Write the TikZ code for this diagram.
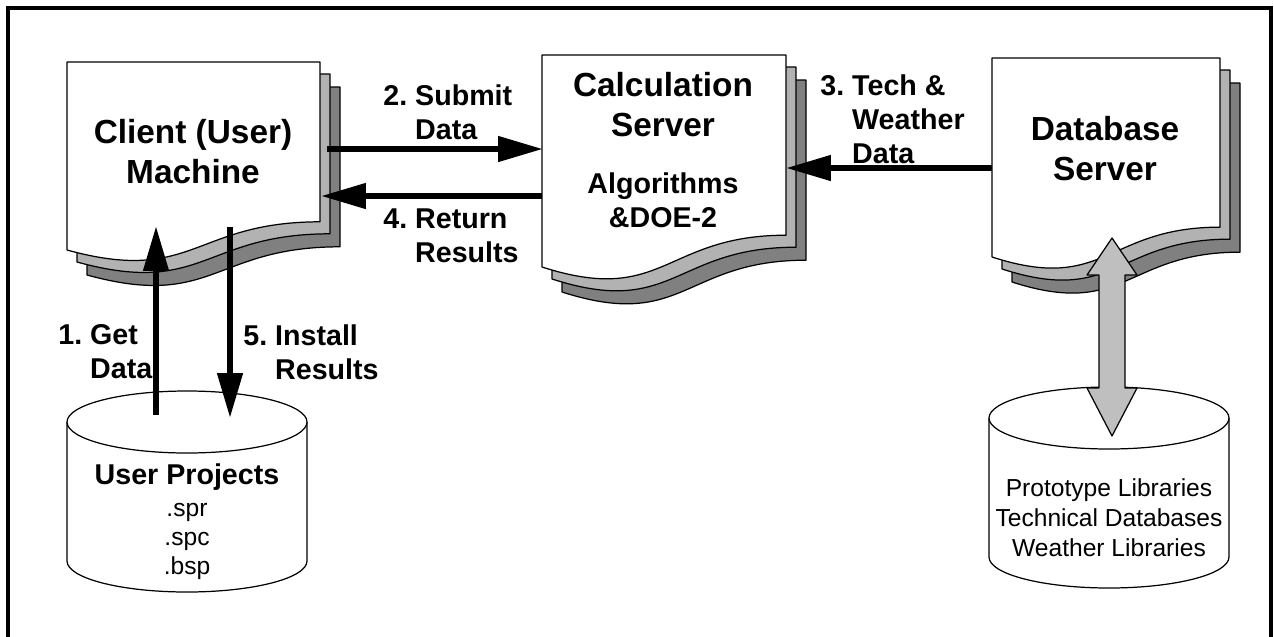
\documentclass[tikz,border=0pt]{standalone}
\usepackage{fontspec}
\setmainfont{Liberation Sans}
\usetikzlibrary{arrows.meta}

% one sheet of a document stack: x, y, width, height, fill
\newcommand{\docpage}[5]{%
  \draw[sheet, fill=#5] (#1,#2) -- ++(#3,0) -- ++(0,0.85*#4)
  .. controls +(-0.5*#3,0) and (#1+0.5*#3,#2+1.185*#4) .. (#1,#2+#4) -- cycle;}
% three sheets, back to front
\newcommand{\docstack}[4]{%
  \docpage{#1+20}{#2+25}{#3}{#4}{pagedark}
  \docpage{#1+10}{#2+12}{#3}{#4}{pagelight}
  \docpage{#1}{#2}{#3}{#4}{white}}
% disk: centre x, top y, bottom y, radius
\newcommand{\disk}[4]{%
  \fill[white] (#1-#4,#2) rectangle (#1+#4,#3);
  \draw[sheet, fill=white] (#1-#4,#2) -- (#1-#4,#3)
  arc[start angle=180, end angle=0, x radius=#4, y radius=31] -- (#1+#4,#2);
  \draw[sheet, fill=white] (#1,#2) ellipse[x radius=#4, y radius=31];}

\begin{document}
\begin{tikzpicture}[x=0.02cm, y=-0.02cm,
  sheet/.style={line width=0.7pt, draw=black, line join=round},
  heading/.style={font=\fontsize{19}{22.7}\selectfont\bfseries, align=center},
  steplabel/.style={font=\fontsize{16.3}{19.3}\selectfont\bfseries, align=left,
    anchor=west, inner sep=0pt},
  smalltext/.style={font=\fontsize{14}{16.5}\selectfont, align=center, inner sep=0pt},
  flow/.style={line width=3.4pt, -{Triangle[length=25pt, width=15pt, line width=0pt]}}]
  \colorlet{pagelight}{black!30}
  \colorlet{pagedark}{black!50}
  \colorlet{linkfill}{black!25}
  \useasboundingbox (0,0) rectangle (1274,636);
  \draw[line width=2.3pt] (8,660) -- (8,8) -- (1271,8) -- (1271,660); % frame

  \docstack{67}{62}{253}{188}   % client
  \docstack{542}{55}{244}{212}  % calculation
  \docstack{992}{58}{228}{199}  % database
  \disk{187}{422}{561}{120}     % user projects
  \disk{1109}{418}{557}{120}    % libraries

  \node[heading] (client) at (193,152) {Client (User)\\Machine};
  \node[heading] (calc) at (663,105) {Calculation\\Server};
  \node[heading, font=\fontsize{16.3}{19.3}\selectfont\bfseries] (algo) at (663,200)
    {Algorithms\\\&DOE-2};
  \node[heading] (db) at (1105,149) {Database\\Server};
  \node[heading, font=\fontsize{16.3}{19.3}\selectfont\bfseries] (projects) at (187,477)
    {User Projects};
  \node[smalltext] (ext) at (187,541) {.spr\\.spc\\.bsp};
  \node[smalltext, font=\fontsize{14}{17}\selectfont] (libs) at (1109,518)
    {Prototype Libraries\\Technical Databases\\Weather Libraries};

  % ports
  \coordinate (client-out) at (327,149);
  \coordinate (calc-in) at (542,149);
  \coordinate (calc-out) at (542,196);
  \coordinate (client-in) at (322,196);
  \coordinate (db-out) at (992,168);
  \coordinate (calc-side) at (787,168);
  \coordinate (proj-out) at (156,415);
  \coordinate (client-up) at (156,227);
  \coordinate (client-down) at (230,227);
  \coordinate (proj-in) at (230,417);

  \draw[flow] (client-out) -- (calc-in);
  \draw[flow] (calc-out) -- (client-in);
  \draw[flow] (db-out) -- (calc-side);
  \draw[flow] (proj-out) -- (client-up);
  \draw[flow] (client-down) -- (proj-in);

  \node[steplabel] (submit) at (383,112) {2.~Submit\\\phantom{2.~}Data};
  \node[steplabel] (return) at (383,236) {4.~Return\\\phantom{4.~}Results};
  \node[steplabel] (tech) at (820,119) {3.~Tech \&\\\phantom{3.~}Weather\\\phantom{3.~}Data};
  \node[steplabel] (get) at (58,352) {1.~Get\\\phantom{1.~}Data};
  \node[steplabel] (install) at (243,352) {5.~Install\\\phantom{5.~}Results};

  % two-way link between database server and libraries
  \filldraw[sheet, fill=linkfill] (1112,238) -- (1137,275) -- (1125,275) -- (1125,388)
    -- (1137,388) -- (1112,436) -- (1087,388) -- (1099,388) -- (1099,275)
    -- (1087,275) -- cycle;
\end{tikzpicture}
\end{document}
